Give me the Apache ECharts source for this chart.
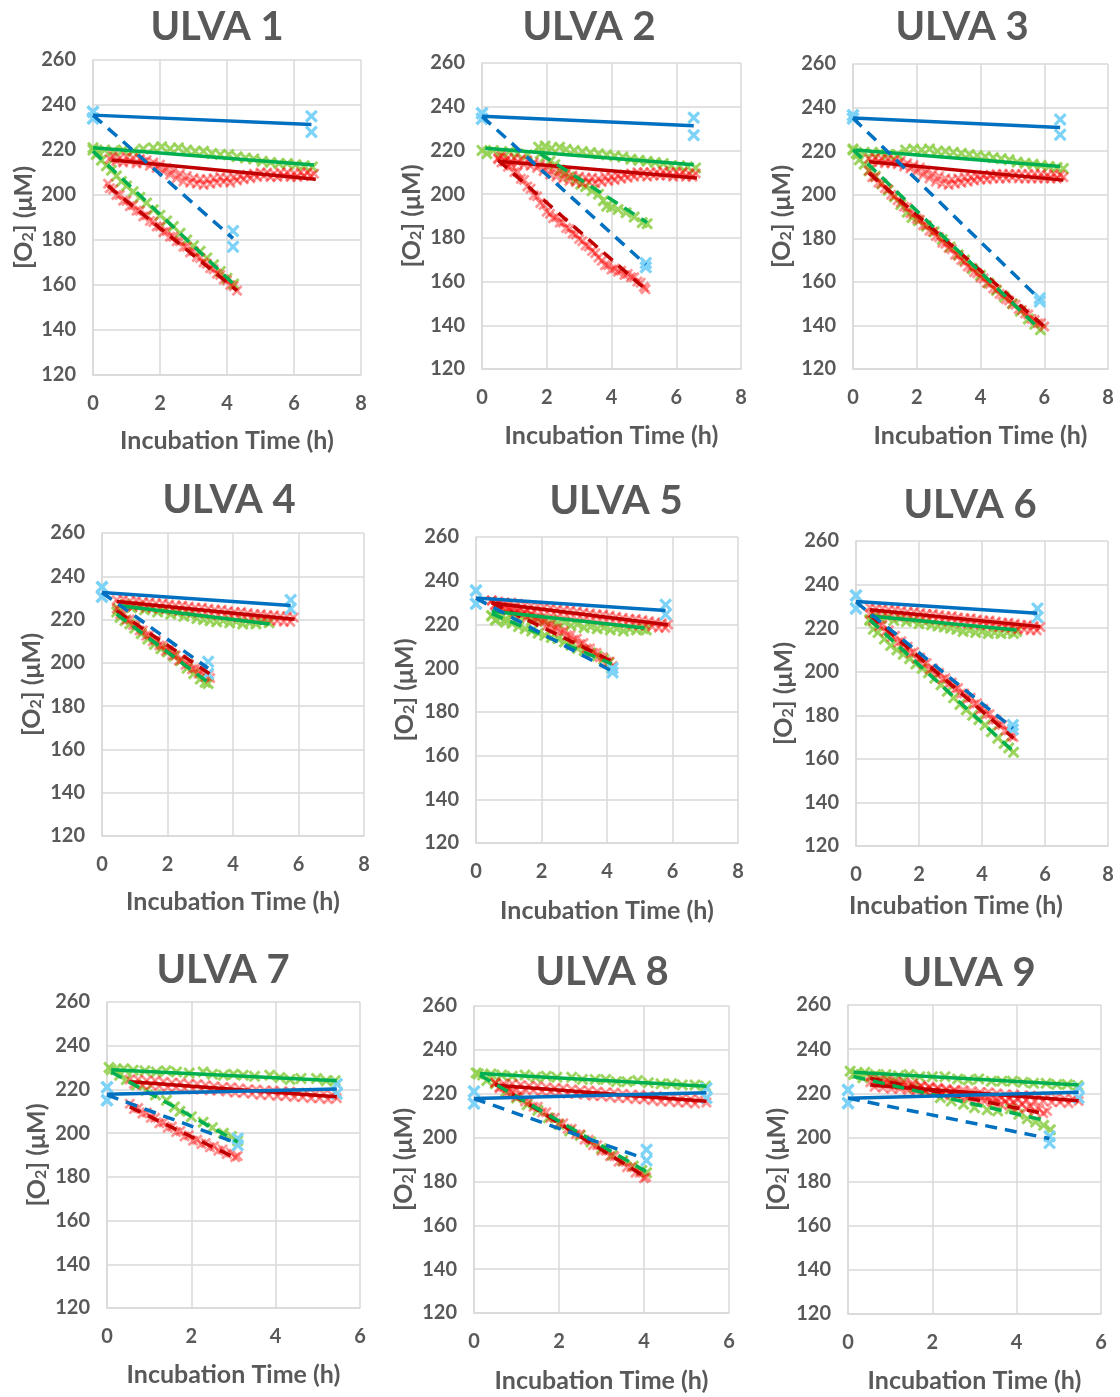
<!DOCTYPE html>
<html>
<head>
<meta charset="utf-8">
<title>ULVA incubations</title>
<script src="https://cdn.jsdelivr.net/npm/echarts@6/dist/echarts.min.js"></script>
<style>
  html, body { margin: 0; padding: 0; background: #ffffff; }
  #chart { width: 1120px; height: 1397px; }
</style>
</head>
<body>
<div id="chart"></div>
<script>
// ---- Oxygen concentration data: [incubation time (h), O2 (µM)] ----
// Trend arrays per panel: [x0, y0, x1, y1] in the order
// blue light, blue dark, green light, green dark, red light, red dark.

// ULVA 1
const ulva1BlueLight = [[0,237],[0,234],[6.52,235],[6.52,228]];
const ulva1BlueDark = [[0,237],[0,234],[4.18,184],[4.18,177]];
const ulva1GreenLight = [[0,221],[0.15,219],[0.35,220],[0.6,219.5],[0.9,220],[1.2,219.5],[1.5,220.5],[1.8,221],[2.05,221.5],[2.3,220.5],[2.55,221],[2.8,220],[3.05,219.5],[3.3,219.5],[3.55,218.5],[3.8,218],[4.05,218],[4.3,217],[4.55,216.5],[4.8,216],[5.05,215],[5.3,214.5],[5.55,214],[5.8,214],[6.05,213.5],[6.3,213],[6.55,212.5]];
const ulva1GreenDark = [[0,220],[0.1,218],[0.25,215.5],[0.4,213],[0.55,211],[0.7,208.5],[0.85,206],[1.0,204],[1.2,201.5],[1.4,199],[1.6,196.5],[1.8,193.5],[2.0,191],[2.2,188.5],[2.4,186],[2.6,183],[2.8,180],[3.0,177.5],[3.2,175],[3.4,172],[3.6,169],[3.8,166],[4.0,163],[4.2,160.5]];
const ulva1RedLight = [[0.5,216],[0.6,217.5],[0.7,215],[0.8,216.5],[0.9,214.5],[1.0,217],[1.1,215],[1.2,216.5],[1.3,214],[1.4,216],[1.5,214.5],[1.6,215.5],[1.7,213],[1.8,214.5],[1.9,212],[2.0,213.5],[2.1,210.5],[2.2,212],[2.3,209],[2.4,211],[2.5,207.5],[2.6,209.5],[2.7,206],[2.8,208.5],[2.9,205.5],[3.0,207.5],[3.1,205],[3.2,207],[3.3,204.5],[3.4,207],[3.5,205],[3.6,207.5],[3.7,205.5],[3.8,208],[3.9,206],[4.0,207.5],[4.1,205.5],[4.2,208],[4.3,206.5],[4.4,208.5],[4.5,207],[4.6,209],[4.7,207.5],[4.8,209.5],[4.9,208],[5.0,210],[5.1,208.5],[5.2,210],[5.3,208],[5.4,209.5],[5.5,208],[5.6,210],[5.7,208.5],[5.8,210],[5.9,208],[6.0,209.5],[6.1,208],[6.2,210],[6.3,208.5],[6.4,210],[6.5,208.5],[6.6,209.5]];
const ulva1RedDark = [[0.45,205],[0.5,203],[0.6,202.5],[0.7,200],[0.8,200],[0.9,197.5],[1.0,197.5],[1.1,195],[1.2,195.5],[1.3,193],[1.4,193],[1.5,190.5],[1.6,191],[1.7,188.5],[1.8,188],[1.9,186],[2.0,186],[2.1,183.5],[2.2,184],[2.3,181.5],[2.4,181.5],[2.5,179.5],[2.6,179.5],[2.7,177],[2.8,177],[2.9,174.5],[3.0,175],[3.1,172.5],[3.2,172],[3.3,170],[3.4,169.5],[3.5,167.5],[3.6,167],[3.7,165],[3.8,164.5],[3.9,162.5],[4.0,162],[4.1,160],[4.2,159.5],[4.3,157.5]];
const ulva1Trends = [[0,235.5,6.52,231.3],[0,235.5,4.18,180.7],[0,221,6.6,213.3],[0,219.5,4.23,160],[0.55,215.6,6.65,207],[0.45,204,4.3,157.5]];

// ULVA 2
const ulva2BlueLight = [[0,237],[0,234.5],[6.54,235],[6.54,227]];
const ulva2BlueDark = [[0,237],[0,234.5],[5.06,168.5],[5.06,166.5]];
const ulva2GreenLight = [[0,220],[0.15,218.5],[0.35,220],[0.6,219],[0.85,219.5],[1.1,218.5],[1.4,218],[1.75,221.5],[1.95,222],[2.15,221],[2.4,221.5],[2.6,220.5],[2.85,220],[3.1,219.5],[3.35,219],[3.6,218.5],[3.85,218],[4.1,217.5],[4.35,217],[4.6,216],[4.85,215.5],[5.1,215],[5.35,214.5],[5.6,214],[5.85,213],[6.1,213],[6.35,212.5],[6.6,212]];
const ulva2GreenDark = [[1.8,218.5],[1.95,217],[2.1,215],[2.25,213.5],[2.4,211],[2.55,209.5],[2.7,208],[2.9,206.5],[3.05,204.5],[3.2,203.5],[3.4,201.5],[3.6,200],[3.75,197],[3.85,194.5],[4.0,194],[4.2,193],[4.45,191.5],[4.7,189.5],[4.95,187],[5.1,186.5]];
const ulva2RedLight = [[0.5,216],[0.6,217.5],[0.7,215],[0.8,216.5],[0.9,214.5],[1.0,216.5],[1.1,214.5],[1.2,216],[1.3,213.5],[1.4,215.5],[1.5,213],[1.6,214.5],[1.7,212],[1.8,213.5],[1.9,210.5],[2.0,212.5],[2.1,209],[2.2,211.5],[2.3,208],[2.4,210.5],[2.5,207],[2.6,209.5],[2.7,206],[2.8,208.5],[2.9,205.5],[3.0,208],[3.1,205],[3.2,207.5],[3.3,205.5],[3.4,207.5],[3.5,205],[3.6,207],[3.7,205.5],[3.8,208],[3.9,206],[4.0,208],[4.1,206.5],[4.2,208.5],[4.3,207],[4.4,209],[4.5,207.5],[4.6,209.5],[4.7,208],[4.8,210],[4.9,208.5],[5.0,210],[5.1,208],[5.2,210],[5.3,208.5],[5.4,210],[5.5,208.5],[5.6,210.5],[5.7,208.5],[5.8,210],[5.9,208],[6.0,210],[6.1,208.5],[6.2,210],[6.3,208],[6.4,209.5],[6.5,208],[6.6,209.5]];
const ulva2RedDark = [[0.5,216.5],[0.6,214.5],[0.7,215],[0.8,212.5],[0.9,213],[1.0,210],[1.1,210],[1.2,207],[1.3,206.5],[1.4,203.5],[1.5,202.5],[1.6,199.5],[1.7,199],[1.8,196],[1.9,195],[2.0,192],[2.1,191],[2.2,189],[2.3,189.5],[2.4,187],[2.5,187],[2.6,184.5],[2.7,184],[2.8,182],[2.9,181.5],[3.0,179.5],[3.1,178.5],[3.2,176.5],[3.3,176],[3.4,174],[3.5,173],[3.6,171],[3.7,169.5],[3.8,167.5],[3.9,167.5],[4.0,165.5],[4.1,166],[4.2,164.5],[4.3,165],[4.4,163],[4.5,163.5],[4.6,162],[4.7,162],[4.8,160],[4.9,159.5],[5.0,157.5],[5.05,156.5]];
const ulva2Trends = [[0,235.6,6.54,231.3],[0,235.6,5.06,167.8],[0.1,221,6.54,213.5],[1.8,218.5,5.1,187],[0.5,215,6.64,207.4],[0.5,215.5,5.05,156.5]];

// ULVA 3
const ulva3BlueLight = [[0,236.5],[0,235],[6.5,234.5],[6.5,227.5]];
const ulva3BlueDark = [[0,236.5],[0,235],[5.86,152.5],[5.86,151]];
const ulva3GreenLight = [[0,220.5],[0.15,218.5],[0.35,219.5],[0.6,219],[0.85,219.5],[1.1,218.5],[1.4,218.5],[1.65,220.5],[1.9,221],[2.15,220.5],[2.4,221],[2.65,220],[2.9,220],[3.15,219.5],[3.4,219],[3.65,218.5],[3.9,218],[4.15,217.5],[4.4,217],[4.65,216.5],[4.9,216],[5.15,215],[5.4,214.5],[5.65,214],[5.9,213.5],[6.15,213],[6.4,212.5],[6.6,212]];
const ulva3GreenDark = [[0,221],[0.1,219],[0.2,216],[0.35,214],[0.5,211],[0.7,208.5],[0.9,205],[1.1,202],[1.3,199],[1.5,195.5],[1.7,192],[1.85,189.5],[2.05,188],[2.3,185.5],[2.55,183],[2.8,179.5],[3.05,176],[3.3,172.5],[3.5,170],[3.75,166],[4.0,163],[4.25,159.5],[4.5,156],[4.75,153],[5.0,150],[5.25,146.5],[5.5,143],[5.7,140.5],[5.88,138]];
const ulva3RedLight = [[0.5,216.5],[0.6,215],[0.7,217],[0.8,215],[0.9,216.5],[1.0,214.5],[1.1,216.5],[1.2,214.5],[1.3,216],[1.4,214],[1.5,215.5],[1.6,213],[1.7,214.5],[1.8,212],[1.9,213.5],[2.0,210.5],[2.1,212.5],[2.2,209],[2.3,211],[2.4,207.5],[2.5,209.5],[2.6,206],[2.7,208.5],[2.8,205],[2.9,207.5],[3.0,204.5],[3.1,207],[3.2,205],[3.3,207.5],[3.4,205.5],[3.5,208],[3.6,206],[3.7,208],[3.8,206.5],[3.9,208.5],[4.0,207],[4.1,209],[4.2,207],[4.3,209],[4.4,207.5],[4.5,209.5],[4.6,207.5],[4.7,209.5],[4.8,207.5],[4.9,209.5],[5.0,208],[5.1,209.5],[5.2,207.5],[5.3,209.5],[5.4,207.5],[5.5,209.5],[5.6,207.5],[5.7,209.5],[5.8,207.5],[5.9,209.5],[6.0,207.5],[6.1,209],[6.2,207.5],[6.3,209.5],[6.4,207.5],[6.5,209],[6.6,208]];
const ulva3RedDark = [[0.5,211],[0.6,208],[0.7,208],[0.8,205.5],[0.9,205],[1.0,203],[1.1,202.5],[1.2,200],[1.3,199.5],[1.4,197.5],[1.5,196.5],[1.6,194.5],[1.7,194],[1.8,191.5],[1.9,191],[2.0,189],[2.1,188.5],[2.2,186],[2.3,186],[2.4,183.5],[2.5,183],[2.6,181],[2.7,180.5],[2.8,178],[2.9,177.5],[3.0,175.5],[3.1,175],[3.2,172.5],[3.3,172],[3.4,170],[3.5,169],[3.6,167],[3.7,166.5],[3.8,164.5],[3.9,164],[4.0,162],[4.1,161.5],[4.2,159.5],[4.3,159],[4.4,157],[4.5,156.5],[4.6,154.5],[4.7,154],[4.8,152],[4.9,151.5],[5.0,150],[5.1,149.5],[5.2,147.5],[5.3,147],[5.4,145.5],[5.5,145],[5.6,143],[5.7,142.5],[5.8,141],[5.9,141],[6.0,139.5]];
const ulva3Trends = [[0,235.2,6.5,230.9],[0,235.2,5.86,152],[0.08,220.5,6.5,213],[0,220.7,5.88,138],[0.5,215.1,6.6,206.7],[0.5,210,6.0,139.5]];

// ULVA 4
const ulva4BlueLight = [[0,235],[0,230.5],[5.76,229],[5.76,225]];
const ulva4BlueDark = [[0,235],[0,230.5],[3.24,200.5],[3.24,195]];
const ulva4GreenLight = [[0.5,225],[0.7,227],[0.9,225.5],[1.1,226],[1.3,224.5],[1.5,225],[1.7,223.5],[1.9,224],[2.1,222.5],[2.3,223],[2.5,221.5],[2.7,222],[2.9,220.5],[3.1,220],[3.3,219.5],[3.5,219],[3.7,219.5],[3.9,218.5],[4.1,219],[4.3,218],[4.5,218.5],[4.7,218],[4.9,219],[5.1,218.5]];
const ulva4GreenDark = [[0.45,223.5],[0.55,221],[0.7,219.5],[0.85,218],[1.0,216],[1.2,213.5],[1.4,211],[1.6,208.5],[1.8,206.5],[2.0,205],[2.2,203],[2.4,201],[2.6,197.5],[2.8,195],[3.0,192.5],[3.15,191],[3.24,190.5]];
const ulva4RedLight = [[0.45,229],[0.55,227],[0.65,229.5],[0.75,226.5],[0.85,228.5],[0.95,226],[1.05,229],[1.15,226.5],[1.25,228],[1.35,225.5],[1.45,228],[1.55,225.5],[1.65,227.5],[1.75,225],[1.85,227.5],[1.95,225],[2.05,227],[2.15,224.5],[2.25,226.5],[2.35,224],[2.45,226.5],[2.55,224],[2.65,226],[2.75,223.5],[2.85,225.5],[2.95,223],[3.05,225.5],[3.15,223],[3.25,225],[3.35,222.5],[3.45,224.5],[3.55,222],[3.65,224.5],[3.75,222],[3.85,224],[3.95,221.5],[4.05,223.5],[4.15,221],[4.25,223.5],[4.35,221],[4.45,223],[4.55,220.5],[4.65,222.5],[4.75,220],[4.85,222.5],[4.95,220],[5.05,222],[5.15,219.5],[5.25,222],[5.35,219.5],[5.45,221.5],[5.55,219],[5.65,221.5],[5.75,219],[5.85,221]];
const ulva4RedDark = [[0.45,225],[0.55,222.5],[0.65,222.5],[0.75,220],[0.85,220],[0.95,217.5],[1.05,217.5],[1.15,215],[1.25,215],[1.35,212.5],[1.45,213],[1.55,210],[1.65,210.5],[1.75,208],[1.85,208],[1.95,205.5],[2.05,206],[2.15,203.5],[2.25,203.5],[2.35,201],[2.45,201.5],[2.55,199],[2.65,199.5],[2.75,197],[2.85,197.5],[2.95,195],[3.05,196],[3.15,193.5],[3.25,194.5],[3.3,193]];
const ulva4Trends = [[0,232.5,5.76,226.5],[0,232.5,3.24,197.5],[0.55,226.4,5.12,218],[0.45,222.5,3.24,191],[0.45,228.4,5.88,220.2],[0.45,224,3.3,194.8]];

// ULVA 5
const ulva5BlueLight = [[0,235.5],[0,229.5],[5.79,229],[5.79,224.5]];
const ulva5BlueDark = [[0,235.5],[0,229.5],[4.17,200],[4.17,198]];
const ulva5GreenLight = [[0.48,224],[0.6,222],[0.75,224.5],[0.9,222.5],[1.1,224],[1.3,222.5],[1.5,223.5],[1.7,222],[1.9,222.5],[2.1,221.5],[2.3,222],[2.5,220.5],[2.7,221],[2.9,219.5],[3.1,220],[3.3,218.5],[3.5,219],[3.7,218],[3.9,218.5],[4.1,217.5],[4.3,218],[4.5,217],[4.7,218],[4.9,217.5],[5.1,218],[5.2,217.5]];
const ulva5GreenDark = [[0.48,224],[0.6,222],[0.75,223],[0.9,221],[1.1,220.5],[1.3,219],[1.5,218],[1.7,217],[1.9,216],[2.1,215],[2.3,214],[2.5,213.5],[2.7,212],[2.9,210.5],[3.1,209],[3.3,208],[3.5,207],[3.7,205.5],[3.9,204],[4.05,202.5],[4.14,200]];
const ulva5RedLight = [[0.48,231],[0.58,228.5],[0.68,230.5],[0.78,228],[0.88,230],[0.98,227.5],[1.08,230],[1.18,227.5],[1.28,229.5],[1.38,227],[1.48,229],[1.58,226.5],[1.68,228.5],[1.78,226],[1.88,228.5],[1.98,225.5],[2.08,228],[2.18,225.5],[2.28,227.5],[2.38,225],[2.48,227],[2.58,224.5],[2.68,226.5],[2.78,224],[2.88,226.5],[2.98,223.5],[3.08,226],[3.18,223.5],[3.28,225.5],[3.38,223],[3.48,225],[3.58,222.5],[3.68,224.5],[3.78,222],[3.88,224.5],[3.98,221.5],[4.08,224],[4.18,221.5],[4.28,223.5],[4.38,221],[4.48,223],[4.58,220.5],[4.68,222.5],[4.78,220],[4.88,222.5],[4.98,219.5],[5.08,222],[5.18,219.5],[5.28,221.5],[5.38,219],[5.48,221],[5.58,218.5],[5.68,220.5],[5.78,218.5],[5.86,220]];
const ulva5RedDark = [[0.48,231],[0.58,229],[0.68,229.5],[0.78,227.5],[0.88,228.5],[0.98,226.5],[1.08,227.5],[1.18,225.5],[1.28,226.5],[1.38,224.5],[1.48,225.5],[1.58,223.5],[1.68,224.5],[1.78,222.5],[1.88,223],[1.98,221],[2.08,221.5],[2.18,219.5],[2.28,220],[2.38,218],[2.48,218.5],[2.58,216.5],[2.68,217],[2.78,215],[2.88,215],[2.98,213],[3.08,213.5],[3.18,211],[3.28,211.5],[3.38,209],[3.48,209],[3.58,207],[3.68,207],[3.78,205],[3.88,205],[3.98,203],[4.08,203],[4.18,201]];
const ulva5Trends = [[0,232.1,5.79,226.4],[0,232,4.17,198.5],[0.48,226,5.15,218.4],[0.48,224.9,4.14,202],[0.48,229.8,5.86,219.9],[0.48,230,4.2,202.8]];

// ULVA 6
const ulva6BlueLight = [[0,235],[0,229],[5.76,229],[5.76,225]];
const ulva6BlueDark = [[0,235],[0,229],[4.98,175.5],[4.98,173.5]];
const ulva6GreenLight = [[0.44,224],[0.6,226],[0.8,224.5],[1.0,225],[1.2,223.5],[1.4,224.5],[1.6,223],[1.8,223.5],[2.0,222],[2.2,222.5],[2.4,221.5],[2.6,221],[2.8,220.5],[3.0,220],[3.2,219.5],[3.4,218.5],[3.6,219],[3.8,218],[4.0,218.5],[4.2,217.5],[4.4,218],[4.6,217.5],[4.8,218],[5.0,217.5],[5.1,218.5]];
const ulva6GreenDark = [[0.44,223.5],[0.55,219.5],[0.7,218],[0.9,215],[1.1,212],[1.3,210],[1.5,208],[1.7,206],[1.9,203.5],[2.1,201.5],[2.3,199.5],[2.5,197],[2.7,194],[2.9,191],[3.1,188],[3.3,185],[3.5,182.5],[3.7,180],[3.9,178],[4.1,175.5],[4.3,172.5],[4.5,169.5],[4.7,167],[4.85,165],[5.0,163]];
const ulva6RedLight = [[0.44,229.5],[0.54,227],[0.64,229],[0.74,226.5],[0.84,229],[0.94,226.5],[1.04,228.5],[1.14,226],[1.24,228.5],[1.34,225.5],[1.44,228],[1.54,225.5],[1.64,227.5],[1.74,225],[1.84,227.5],[1.94,225],[2.04,227],[2.14,224.5],[2.24,226.5],[2.34,224],[2.44,226.5],[2.54,224],[2.64,226],[2.74,223.5],[2.84,225.5],[2.94,223],[3.04,225.5],[3.14,223],[3.24,225],[3.34,222.5],[3.44,224.5],[3.54,222],[3.64,224.5],[3.74,222],[3.84,224],[3.94,221.5],[4.04,223.5],[4.14,221.5],[4.24,223.5],[4.34,221],[4.44,223],[4.54,220.5],[4.64,222.5],[4.74,220.5],[4.84,222.5],[4.94,220],[5.04,222],[5.14,219.5],[5.24,221.5],[5.34,219.5],[5.44,221.5],[5.54,219],[5.64,221],[5.74,219],[5.85,220.5]];
const ulva6RedDark = [[0.44,226.5],[0.54,223.5],[0.64,224],[0.74,221],[0.84,221.5],[0.94,218.5],[1.04,219],[1.14,216],[1.24,216.5],[1.34,213.5],[1.44,214],[1.54,211],[1.64,211.5],[1.74,208.5],[1.84,209],[1.94,206],[2.04,206.5],[2.14,203.5],[2.24,204],[2.34,201],[2.44,201.5],[2.54,199],[2.64,199.5],[2.74,196.5],[2.84,197],[2.94,194.5],[3.04,195],[3.14,192],[3.24,192.5],[3.34,190],[3.44,190],[3.54,187.5],[3.64,188],[3.74,185],[3.84,185.5],[3.94,182.5],[4.04,183],[4.14,180.5],[4.24,180.5],[4.34,178],[4.44,178],[4.54,175.5],[4.64,175.5],[4.74,173],[4.84,173],[4.94,170.5],[5.0,170]];
const ulva6Trends = [[0,232.2,5.76,226.8],[0,232,4.98,174],[0.44,225.6,5.1,219.2],[0.44,223.8,5.0,163.4],[0.44,228.4,5.85,220.7],[0.44,226,5.0,169.5]];

// ULVA 7
const ulva7BlueLight = [[0,221],[0,215],[5.45,222.5],[5.45,218]];
const ulva7BlueDark = [[0,221],[0,215],[3.1,197.5],[3.1,194.5]];
const ulva7GreenLight = [[0.05,230],[0.2,229],[0.4,229.5],[0.62,228.8],[0.9,228.5],[1.17,228],[1.4,228.5],[1.65,228],[1.95,227.5],[2.28,228],[2.5,227],[2.76,226.5],[3.0,227],[3.23,226.5],[3.5,226],[3.86,226.5],[4.1,225.5],[4.34,224.5],[4.6,225],[4.97,225],[5.2,224],[5.41,224]];
const ulva7GreenDark = [[0.1,229],[0.3,226.5],[0.46,224.5],[0.7,222],[0.93,219.5],[1.15,217.5],[1.41,215],[1.6,212],[1.73,210],[2.0,207.5],[2.28,205],[2.5,202.5],[2.76,200],[2.95,198.5],[3.1,196.5]];
const ulva7RedLight = [[0.54,224.5],[0.64,222.5],[0.74,224.5],[0.84,222],[0.94,224],[1.04,222],[1.14,224],[1.24,221.5],[1.34,223.5],[1.44,221],[1.54,223],[1.64,221],[1.74,223],[1.84,220.5],[1.94,222.5],[2.04,220],[2.14,222.5],[2.24,220],[2.34,222],[2.44,219.5],[2.54,221.5],[2.64,219.5],[2.74,221],[2.84,219],[2.94,221],[3.04,218.5],[3.14,220.5],[3.24,218.5],[3.34,220],[3.44,218],[3.54,220],[3.64,217.5],[3.74,219.5],[3.84,217.5],[3.94,219.5],[4.04,217],[4.14,219],[4.24,217],[4.34,219],[4.44,216.5],[4.54,218.5],[4.64,216.5],[4.74,218.5],[4.84,216],[4.94,218],[5.04,216],[5.14,218],[5.24,215.5],[5.34,217.5],[5.45,216]];
const ulva7RedDark = [[0.54,213.5],[0.64,211],[0.74,211.5],[0.84,209],[0.94,209.5],[1.04,207],[1.14,207],[1.24,204.5],[1.34,205],[1.44,202.5],[1.54,203],[1.64,200.5],[1.74,201],[1.84,198.5],[1.94,199],[2.04,196.5],[2.14,197],[2.24,195],[2.34,195.5],[2.44,193.5],[2.54,194],[2.64,192],[2.74,192.5],[2.84,190.5],[2.94,191],[3.04,189],[3.1,189.5]];
const ulva7Trends = [[0,217.8,5.45,220.2],[0,217.5,3.1,195.3],[0.1,229,5.45,224],[0.1,228,3.1,196],[0.54,223.5,5.45,216.6],[0.54,212,3.07,188.4]];

// ULVA 8
const ulva8BlueLight = [[0,221],[0,215.5],[5.47,222.5],[5.47,218]];
const ulva8BlueDark = [[0,221],[0,215.5],[4.06,194.5],[4.06,189.5]];
const ulva8GreenLight = [[0.05,229.5],[0.2,228.5],[0.4,229],[0.65,228.5],[0.9,228],[1.2,228.5],[1.45,227.5],[1.7,228],[1.95,227.5],[2.3,227.5],[2.55,226.5],[2.85,226.5],[3.1,226.5],[3.35,225.5],[3.6,225.5],[3.85,226],[4.1,225],[4.4,224.5],[4.65,224.5],[4.9,224],[5.2,224],[5.45,223.5]];
const ulva8GreenDark = [[0.1,229],[0.3,226],[0.5,224.5],[0.75,221],[1.0,218],[1.25,215],[1.5,212.5],[1.75,209],[2.0,206],[2.25,203],[2.5,201],[2.75,198],[3.0,195],[3.25,192],[3.5,189.5],[3.75,187],[3.95,185],[4.06,184]];
const ulva8RedLight = [[0.5,225],[0.6,223],[0.7,224.5],[0.8,222.5],[0.9,224.5],[1.0,222],[1.1,224],[1.2,222],[1.3,223.5],[1.4,221.5],[1.5,223.5],[1.6,221],[1.7,223],[1.8,221],[1.9,222.5],[2.0,220.5],[2.1,222.5],[2.2,220],[2.3,222],[2.4,220],[2.5,221.5],[2.6,219.5],[2.7,221.5],[2.8,219],[2.9,221],[3.0,219],[3.1,220.5],[3.2,218.5],[3.3,220.5],[3.4,218],[3.5,220],[3.6,218],[3.7,219.5],[3.8,217.5],[3.9,219.5],[4.0,217.5],[4.1,219],[4.2,217],[4.3,219],[4.4,216.5],[4.5,218.5],[4.6,216.5],[4.7,218.5],[4.8,216],[4.9,218],[5.0,216],[5.1,217.5],[5.2,215.5],[5.3,217.5],[5.47,216]];
const ulva8RedDark = [[0.5,225],[0.6,222.5],[0.7,223],[0.8,220.5],[0.9,221],[1.0,218.5],[1.1,219],[1.2,216.5],[1.3,216.5],[1.4,214],[1.5,214],[1.6,211.5],[1.7,211.5],[1.8,209],[1.9,209],[2.0,206.5],[2.1,206.5],[2.2,204],[2.3,204],[2.4,201.5],[2.5,201.5],[2.6,199],[2.7,199],[2.8,196.5],[2.9,196.5],[3.0,194],[3.1,194],[3.2,191.5],[3.3,191.5],[3.4,189],[3.5,189],[3.6,186.5],[3.7,186.5],[3.8,184],[3.9,184],[4.0,181.5],[4.05,182]];
const ulva8Trends = [[0,217.8,5.47,220.4],[0,217.8,4.0,190.5],[0.14,229.2,5.47,223.4],[0.14,228.4,4.06,184.4],[0.5,223.9,5.47,216.6],[0.5,224.6,4.02,182.2]];

// ULVA 9
const ulva9BlueLight = [[0,221.5],[0,215.5],[5.47,222.5],[5.47,218]];
const ulva9BlueDark = [[0,221.5],[0,215.5],[4.78,200.5],[4.78,197.5]];
const ulva9GreenLight = [[0.05,230],[0.2,229],[0.4,229.5],[0.65,228.5],[0.9,228.5],[1.2,228],[1.45,228.5],[1.7,227.5],[2.0,227.5],[2.3,227.5],[2.6,226.5],[2.85,226],[3.1,226.5],[3.4,225.5],[3.65,225.5],[3.9,225.5],[4.15,225],[4.4,224.5],[4.7,224.5],[4.95,224],[5.2,224],[5.45,223.5]];
const ulva9GreenDark = [[0.13,228.5],[0.35,227],[0.55,227.5],[0.77,226],[1.0,225],[1.25,224],[1.56,222.5],[1.85,220.5],[2.19,218],[2.45,216.5],[2.74,215],[3.0,213.5],[3.3,212.5],[3.55,212],[3.85,213],[4.05,210.5],[4.25,208.5],[4.45,207],[4.64,205.5],[4.8,203.5]];
const ulva9RedLight = [[0.53,225],[0.63,223],[0.73,224.5],[0.83,222.5],[0.93,224.5],[1.03,222],[1.13,224],[1.23,222],[1.33,223.5],[1.43,221.5],[1.53,223.5],[1.63,221],[1.73,223],[1.83,221],[1.93,222.5],[2.03,220.5],[2.13,222.5],[2.23,220],[2.33,222],[2.43,220],[2.53,221.5],[2.63,219.5],[2.73,221.5],[2.83,219],[2.93,221],[3.03,219],[3.13,220.5],[3.23,218.5],[3.33,220.5],[3.43,218],[3.53,220],[3.63,218],[3.73,219.5],[3.83,217.5],[3.93,219.5],[4.03,217.5],[4.13,219],[4.23,217],[4.33,219],[4.43,216.5],[4.53,218.5],[4.63,216.5],[4.73,218.5],[4.83,216],[4.93,218],[5.03,216],[5.13,217.5],[5.23,215.5],[5.33,217.5],[5.47,216.5]];
const ulva9RedDark = [[0.53,227.5],[0.63,225],[0.73,226.5],[0.83,224.5],[0.93,226],[1.03,224],[1.13,225.5],[1.23,223.5],[1.33,225],[1.43,223],[1.53,224.5],[1.63,222],[1.73,223.5],[1.83,221.5],[1.93,223],[2.03,220.5],[2.13,222],[2.23,220],[2.33,221.5],[2.43,219],[2.53,221],[2.63,218.5],[2.73,220],[2.83,218],[2.93,219.5],[3.03,217],[3.13,219],[3.23,216.5],[3.33,218],[3.43,216],[3.53,217.5],[3.63,215],[3.73,216.5],[3.83,214.5],[3.93,216],[4.03,213.5],[4.13,215],[4.23,213],[4.33,214],[4.43,212],[4.53,213],[4.63,211],[4.72,212]];
const ulva9Trends = [[0,217.8,5.47,220.5],[0,217.8,4.78,199.5],[0.13,229.5,5.47,223.8],[0.13,227.6,4.72,207.5],[0.53,223.8,5.47,216.6],[0.53,226.8,4.65,210.8]];

// Axis ticks
const yTicks = { min: 120, max: 260, step: 20 };
const xMaxWide = 8;
const xMaxNarrow = 6;
const xStep = 2;

// ---- layout of the nine panels (plot-area boxes in px) ----
const panels = [
  { title: 'ULVA 1', tx: 217, ty: 27, box: [93, 60, 268, 315], xMax: xMaxWide, xGap: 53, yGap: 57, xPad: 0,
    data: [ulva1BlueLight, ulva1BlueDark, ulva1GreenLight, ulva1GreenDark, ulva1RedLight, ulva1RedDark], trends: ulva1Trends },
  { title: 'ULVA 2', tx: 589, ty: 27, box: [482, 63, 259, 306], xMax: xMaxWide, xGap: 54, yGap: 58, xPad: 0,
    data: [ulva2BlueLight, ulva2BlueDark, ulva2GreenLight, ulva2GreenDark, ulva2RedLight, ulva2RedDark], trends: ulva2Trends },
  { title: 'ULVA 3', tx: 962, ty: 27, box: [853, 64, 255, 305], xMax: xMaxWide, xGap: 54, yGap: 59, xPad: 0,
    data: [ulva3BlueLight, ulva3BlueDark, ulva3GreenLight, ulva3GreenDark, ulva3RedLight, ulva3RedDark], trends: ulva3Trends },
  { title: 'ULVA 4', tx: 229, ty: 500, box: [102, 533, 262, 303], xMax: xMaxWide, xGap: 53, yGap: 58, xPad: 0,
    data: [ulva4BlueLight, ulva4BlueDark, ulva4GreenLight, ulva4GreenDark, ulva4RedLight, ulva4RedDark], trends: ulva4Trends },
  { title: 'ULVA 5', tx: 616, ty: 501, box: [476, 537, 262, 306], xMax: xMaxWide, xGap: 55, yGap: 59, xPad: 0,
    data: [ulva5BlueLight, ulva5BlueDark, ulva5GreenLight, ulva5GreenDark, ulva5RedLight, ulva5RedDark], trends: ulva5Trends },
  { title: 'ULVA 6', tx: 970, ty: 505, box: [856, 541, 252, 305], xMax: xMaxWide, xGap: 47, yGap: 60, xPad: 52,
    data: [ulva6BlueLight, ulva6BlueDark, ulva6GreenLight, ulva6GreenDark, ulva6RedLight, ulva6RedDark], trends: ulva6Trends },
  { title: 'ULVA 7', tx: 223, ty: 970, box: [107, 1002, 253, 306], xMax: xMaxNarrow, xGap: 54, yGap: 58, xPad: 0,
    data: [ulva7BlueLight, ulva7BlueDark, ulva7GreenLight, ulva7GreenDark, ulva7RedLight, ulva7RedDark], trends: ulva7Trends },
  { title: 'ULVA 8', tx: 602, ty: 972, box: [474, 1006, 255, 307], xMax: xMaxNarrow, xGap: 55, yGap: 58, xPad: 0,
    data: [ulva8BlueLight, ulva8BlueDark, ulva8GreenLight, ulva8GreenDark, ulva8RedLight, ulva8RedDark], trends: ulva8Trends },
  { title: 'ULVA 9', tx: 969, ty: 973, box: [848, 1005, 253, 309], xMax: xMaxNarrow, xGap: 54, yGap: 59, xPad: 0,
    data: [ulva9BlueLight, ulva9BlueDark, ulva9GreenLight, ulva9GreenDark, ulva9RedLight, ulva9RedDark], trends: ulva9Trends }
];

const FONT = 'Lato, "Open Sans", "Liberation Sans", sans-serif';
const TEXT = '#595959';
const GRIDLINE = '#D9D9D9';
const CROSS = 'path://M3.5,0 L10,6.5 L16.5,0 L20,3.5 L13.5,10 L20,16.5 L16.5,20 L10,13.5 L3.5,20 L0,16.5 L6.5,10 L0,3.5 Z';

// marker look for each of the six series
const markerStyles = [
  { color: '#7DD3F7', size: 13, opacity: 1 },
  { color: '#7DD3F7', size: 13, opacity: 1 },
  { color: '#92D050', size: 12, opacity: 0.9 },
  { color: '#92D050', size: 12, opacity: 0.9 },
  { color: 'rgba(255,0,0,0.42)', size: 11, opacity: 1 },
  { color: 'rgba(255,0,0,0.42)', size: 11, opacity: 1 }
];
// trend-line look for each of the six series
const trendStyles = [
  { color: '#0070C0', dashed: false },
  { color: '#0070C0', dashed: true },
  { color: '#00B050', dashed: false },
  { color: '#00B050', dashed: true },
  { color: '#C00000', dashed: false },
  { color: '#C00000', dashed: true }
];
// draw order of markers (green under red, blue above) and lines
const markerOrder = [2, 3, 4, 5, 0, 1];
const lineOrder = [4, 5, 2, 3, 0, 1];

const grid = [], xAxis = [], yAxis = [], series = [], graphic = [];

panels.forEach((p, i) => {
  grid.push({ left: p.box[0], top: p.box[1], width: p.box[2], height: p.box[3], containLabel: false });

  xAxis.push({
    type: 'value', gridIndex: i, min: 0, max: p.xMax, interval: xStep,
    name: 'Incubation Time (h)', nameLocation: 'middle', nameGap: p.xGap,
    nameTextStyle: { fontFamily: FONT, fontSize: 25, fontWeight: 'bold', color: TEXT, padding: [0, p.xPad, 0, 0] },
    axisLine: { show: true, lineStyle: { color: GRIDLINE, width: 1.5 } },
    axisTick: { show: false },
    axisLabel: { margin: 19, fontFamily: FONT, fontSize: 20, fontWeight: 'bold', color: TEXT },
    splitLine: { show: true, lineStyle: { color: GRIDLINE, width: 1.5 } }
  });

  yAxis.push({
    type: 'value', gridIndex: i, min: yTicks.min, max: yTicks.max, interval: yTicks.step,
    name: '[O{sub|2}] (μM)', nameLocation: 'middle', nameGap: p.yGap, nameRotate: 90,
    nameTextStyle: {
      fontFamily: FONT, fontSize: 25, fontWeight: 'bold', color: TEXT,
      rich: { sub: { fontFamily: FONT, fontSize: 16, fontWeight: 'bold', color: TEXT, verticalAlign: 'bottom' } }
    },
    axisLine: { show: true, lineStyle: { color: GRIDLINE, width: 1.5 } },
    axisTick: { show: false },
    axisLabel: { margin: 17, fontFamily: FONT, fontSize: 20, fontWeight: 'bold', color: TEXT },
    splitLine: { show: true, lineStyle: { color: GRIDLINE, width: 1.5 } }
  });

  markerOrder.forEach((k, zi) => {
    const m = markerStyles[k];
    series.push({
      type: 'scatter', xAxisIndex: i, yAxisIndex: i, data: p.data[k],
      symbol: CROSS, symbolSize: m.size, silent: true, z: 2 + zi * 0.01,
      itemStyle: { color: m.color, opacity: m.opacity }
    });
  });

  lineOrder.forEach((k, zi) => {
    const t = p.trends[k], s = trendStyles[k];
    series.push({
      type: 'line', xAxisIndex: i, yAxisIndex: i,
      data: [[t[0], t[1]], [t[2], t[3]]],
      showSymbol: false, symbol: 'none', silent: true, z: 3 + zi * 0.01,
      lineStyle: { color: s.color, width: 3.5, type: s.dashed ? [12, 8] : 'solid', cap: 'butt' }
    });
  });

  graphic.push({
    type: 'text', silent: true,
    style: {
      text: p.title, x: 0, y: 0, fontFamily: FONT, fontSize: 40, fontWeight: 'bold',
      fill: TEXT, align: 'center', verticalAlign: 'middle'
    },
    position: [p.tx, p.ty]
  });
});

const chart = echarts.init(document.getElementById('chart'), null, { renderer: 'canvas' });
chart.setOption({
  animation: false,
  backgroundColor: '#ffffff',
  grid, xAxis, yAxis, series, graphic
});
</script>
</body>
</html>
